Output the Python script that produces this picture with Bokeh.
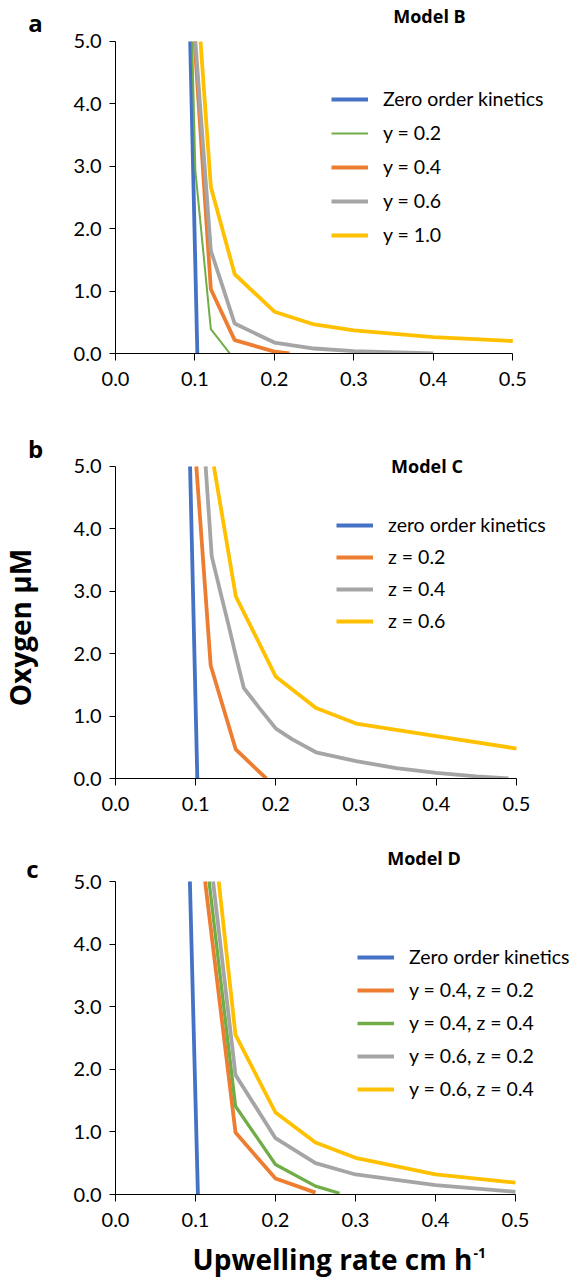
import math
from bokeh.plotting import figure
from bokeh.models import Range1d, FixedTicker, NumeralTickFormatter, Legend, LegendItem, Label
from bokeh.layouts import column, row
from bokeh.embed import file_html
from bokeh.resources import INLINE

# ---------------- data ----------------
x_ticks = [0.0, 0.1, 0.2, 0.3, 0.4, 0.5]
y_ticks = [0, 1, 2, 3, 4, 5]

# Panel a - Model B
a_zero_x = [0.094, 0.103]
a_zero_y = [5.0, 0.0]
a_y02_x = [0.0965, 0.1005, 0.120, 0.144]
a_y02_y = [5.0, 2.93, 0.39, 0.0]
a_y04_x = [0.0995, 0.12, 0.15, 0.20, 0.219]
a_y04_y = [5.0, 1.03, 0.215, 0.03, 0.0]
a_y06_x = [0.1005, 0.12, 0.15, 0.20, 0.25, 0.30, 0.40]
a_y06_y = [5.0, 1.65, 0.48, 0.175, 0.08, 0.037, 0.0]
a_y10_x = [0.107, 0.12, 0.15, 0.20, 0.25, 0.30, 0.40, 0.50]
a_y10_y = [5.0, 2.67, 1.27, 0.67, 0.465, 0.37, 0.262, 0.20]

# Panel b - Model C
b_zero_x = [0.093, 0.102]
b_zero_y = [5.0, 0.0]
b_z02_x = [0.1008, 0.1187, 0.15, 0.188]
b_z02_y = [5.0, 1.81, 0.465, 0.0]
b_z04_x = [0.1124, 0.12, 0.13, 0.14, 0.15, 0.16, 0.18, 0.20, 0.22, 0.25, 0.30, 0.35, 0.40, 0.45, 0.49]
b_z04_y = [5.0, 3.56, 3.03, 2.51, 1.97, 1.45, 1.12, 0.80, 0.63, 0.42, 0.28, 0.165, 0.09, 0.035, 0.0]
b_z06_x = [0.1227, 0.15, 0.20, 0.25, 0.30, 0.40, 0.50]
b_z06_y = [5.0, 2.92, 1.63, 1.13, 0.88, 0.68, 0.48]

# Panel c - Model D
c_zero_x = [0.093, 0.103]
c_zero_y = [5.0, 0.0]
c_y04z02_x = [0.112, 0.15, 0.20, 0.25]
c_y04z02_y = [5.0, 0.99, 0.256, 0.03]
c_y04z04_x = [0.117, 0.15, 0.20, 0.25, 0.28]
c_y04z04_y = [5.0, 1.41, 0.48, 0.133, 0.02]
c_y06z02_x = [0.122, 0.15, 0.20, 0.25, 0.30, 0.40, 0.50]
c_y06z02_y = [5.0, 1.91, 0.90, 0.50, 0.32, 0.15, 0.043]
c_y06z04_x = [0.129, 0.15, 0.20, 0.25, 0.30, 0.40, 0.50]
c_y06z04_y = [5.0, 2.55, 1.31, 0.83, 0.586, 0.32, 0.19]

BLUE = "#4472C4"
ORANGE = "#ED7D31"
GRAY = "#A5A5A5"
YELLOW = "#FFC000"
GREEN = "#70AD47"

TICK_FONT = "Lato"
BOLD_FONT = "Open Sans"

STRIP_W = 46
MAIN_W = 573 - STRIP_W
LEFT = 69
LW = 3.8


def make_fig(height, bottom, x_end, y_end):
    p = figure(width=MAIN_W, height=height, title=None,
               min_border_left=LEFT, min_border_right=0,
               min_border_top=0, min_border_bottom=bottom,
               x_range=Range1d(0, x_end), y_range=Range1d(0, y_end),
               output_backend="svg", toolbar_location=None)
    p.grid.visible = False
    p.outline_line_color = None
    p.xaxis.ticker = FixedTicker(ticks=x_ticks)
    p.yaxis.ticker = FixedTicker(ticks=y_ticks)
    p.xaxis.bounds = (0, 0.5)
    p.yaxis.bounds = (0, 5)
    for ax in (p.xaxis[0], p.yaxis[0]):
        ax.formatter = NumeralTickFormatter(format="0.0")
        ax.major_label_text_font = TICK_FONT
        ax.major_label_text_font_size = "20px"
        ax.major_label_text_color = "black"
        ax.axis_line_color = "black"
        ax.axis_line_width = 1
        ax.major_tick_line_color = "black"
        ax.minor_tick_line_color = None
        ax.major_tick_in = 0
    p.xaxis.major_tick_out = 7
    p.yaxis.major_tick_out = 6
    p.xaxis.major_label_standoff = 11
    p.yaxis.major_label_standoff = 8
    return p


def add_legend(p, items, loc, spacing):
    leg = Legend(items=[LegendItem(label=l, renderers=[r]) for l, r in items],
                 location=loc, orientation="vertical",
                 glyph_width=37, glyph_height=20, label_height=20,
                 label_standoff=15, spacing=spacing, padding=0, margin=0,
                 border_line_color=None, background_fill_alpha=0,
                 label_text_font=TICK_FONT, label_text_font_size="19.5px",
                 label_text_color="black")
    p.add_layout(leg)


def add_label(p, x, y, text, size, angle=0.0, align="center", baseline="alphabetic"):
    p.add_layout(Label(x=x, y=y, text=text, text_font=BOLD_FONT,
                       text_font_style="bold", text_font_size=size,
                       text_color="black", text_align=align,
                       text_baseline=baseline, angle=angle))


def blank_fig(width, height, x_range, y_range, left=0):
    p = figure(width=width, height=height, title=None,
               x_range=x_range, y_range=y_range,
               min_border_left=left, min_border_right=0,
               min_border_top=0, min_border_bottom=0,
               x_axis_location=None, y_axis_location=None,
               output_backend="svg", toolbar_location=None)
    p.grid.visible = False
    p.outline_line_color = None
    return p


# ---------------- panel a ----------------
pa = make_fig(420, 67, 0.5764, 5.657)
ra0 = pa.line(a_zero_x, a_zero_y, line_color=BLUE, line_width=LW)
ra1 = pa.line(a_y02_x, a_y02_y, line_color=GREEN, line_width=2)
ra2 = pa.line(a_y04_x, a_y04_y, line_color=ORANGE, line_width=LW)
ra3 = pa.line(a_y06_x, a_y06_y, line_color=GRAY, line_width=LW)
ra4 = pa.line(a_y10_x, a_y10_y, line_color=YELLOW, line_width=LW)
add_legend(pa, [("Zero order kinetics", ra0), ("y = 0.2", ra1), ("y = 0.4", ra2),
                ("y = 0.6", ra3), ("y = 1.0", ra4)], (216, 107), 11)
add_label(pa, 0.3951, 5.411, "Model B", "18px")

# ---------------- panel b ----------------
pb = make_fig(418, 60, 0.5711, 5.737)
rb0 = pb.line(b_zero_x, b_zero_y, line_color=BLUE, line_width=LW)
rb1 = pb.line(b_z02_x, b_z02_y, line_color=ORANGE, line_width=LW)
rb2 = pb.line(b_z04_x, b_z04_y, line_color=GRAY, line_width=LW)
rb3 = pb.line(b_z06_x, b_z06_y, line_color=YELLOW, line_width=LW)
add_legend(pb, [("zero order kinetics", rb0), ("z = 0.2", rb1), ("z = 0.4", rb2),
                ("z = 0.6", rb3)], (221, 146), 9)
add_label(pb, 0.3884, 5.010, "Model C", "18px")

# ---------------- panel c ----------------
pc = make_fig(402, 46, 0.5725, 5.687)
rc0 = pc.line(c_zero_x, c_zero_y, line_color=BLUE, line_width=LW)
rc1 = pc.line(c_y04z02_x, c_y04z02_y, line_color=ORANGE, line_width=LW)
rc2 = pc.line(c_y04z04_x, c_y04z04_y, line_color=GREEN, line_width=3.3)
rc3 = pc.line(c_y06z02_x, c_y06z02_y, line_color=GRAY, line_width=LW)
rc4 = pc.line(c_y06z04_x, c_y06z04_y, line_color=YELLOW, line_width=LW)
add_legend(pc, [("Zero order kinetics", rc0), ("y = 0.4, z = 0.2", rc1),
                ("y = 0.4, z = 0.4", rc2), ("y = 0.6, z = 0.2", rc3),
                ("y = 0.6, z = 0.4", rc4)], (242, 94), 10)
add_label(pc, 0.3856, 5.372, "Model D", "18px")

# ---------------- x-axis title (footer under panel c) ----------------
foot = blank_fig(MAIN_W, 38, Range1d(0, 0.5725), Range1d(0, 38), left=LEFT)
add_label(foot, 0.4460, 19.8, "Upwelling rate cm h", "28px", align="right")
add_label(foot, 0.4475, 25.5, "-1", "14px", align="left")

# ---------------- left strip: panel letters and y-axis title ----------------
strip = blank_fig(STRIP_W, 1278, Range1d(0, STRIP_W), Range1d(0, 1278))
add_label(strip, 35, 1256.5, "a", "24px")
add_label(strip, 35, 830, "b", "24px")
add_label(strip, 32, 410, "c", "24px")
add_label(strip, 19.5, 651, "Oxygen \u03bcM", "28px", angle=math.pi / 2)

layout = row(strip, column(pa, pb, pc, foot, spacing=0), spacing=0)
open("out.html", "w").write(file_html(layout, INLINE))
